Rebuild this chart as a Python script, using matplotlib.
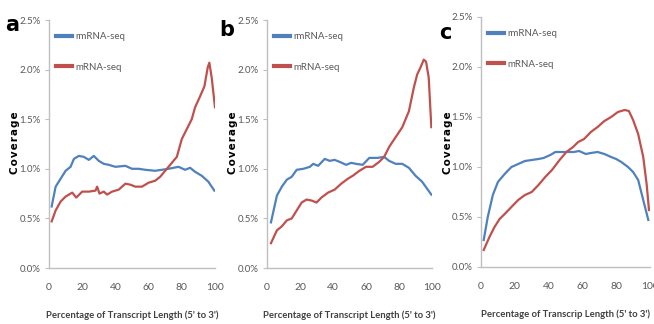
import matplotlib.pyplot as plt
from matplotlib.ticker import FuncFormatter

# panel a
xa_blue = [1.6, 4, 7, 10, 13, 15, 18, 21, 24, 27, 30, 33, 36, 40, 46, 50, 54, 58, 64, 68, 72, 78, 82, 85, 88, 92, 96, 99.6]
ya_blue = [0.62, 0.82, 0.90, 0.98, 1.02, 1.10, 1.13, 1.12, 1.09, 1.13, 1.08, 1.05, 1.04, 1.02, 1.03, 1.00, 1.00, 0.99, 0.98, 0.99, 1.00, 1.02, 0.99, 1.01, 0.97, 0.93, 0.87, 0.78]
xa_red = [1.6, 4, 7, 10, 14, 16.4, 20, 24, 28, 29, 30.4, 33, 35, 38, 42, 46, 49, 52, 56, 60, 64, 67, 70, 73, 77, 80, 83, 86, 88, 91, 93.6, 95.6, 96.6, 98, 100]
ya_red = [0.47, 0.58, 0.67, 0.72, 0.76, 0.71, 0.77, 0.77, 0.78, 0.82, 0.75, 0.77, 0.74, 0.77, 0.79, 0.85, 0.84, 0.82, 0.82, 0.86, 0.88, 0.92, 0.98, 1.04, 1.12, 1.30, 1.40, 1.50, 1.62, 1.73, 1.83, 2.02, 2.07, 1.92, 1.62]

# panel b
xb_blue = [2.4, 6, 9, 12, 15, 18, 22, 26, 28, 31, 35, 38, 41, 44, 48, 51, 54, 58, 62, 67, 71, 74, 78, 82, 86, 90, 94, 97, 99.6]
yb_blue = [0.46, 0.73, 0.82, 0.89, 0.92, 0.99, 1.00, 1.02, 1.05, 1.03, 1.10, 1.08, 1.09, 1.07, 1.04, 1.06, 1.05, 1.04, 1.11, 1.11, 1.12, 1.08, 1.05, 1.05, 1.01, 0.93, 0.87, 0.80, 0.74]
xb_red = [2.4, 6, 9, 12, 15, 18, 21, 24, 27, 30, 33, 37, 41, 45, 49, 52, 56, 60, 64, 68, 71, 74, 78, 82, 86, 89, 91, 93, 95, 96.4, 98, 99.6]
yb_red = [0.25, 0.38, 0.42, 0.48, 0.50, 0.58, 0.66, 0.69, 0.68, 0.66, 0.71, 0.76, 0.79, 0.85, 0.90, 0.93, 0.98, 1.02, 1.02, 1.07, 1.12, 1.22, 1.32, 1.42, 1.58, 1.82, 1.95, 2.02, 2.10, 2.08, 1.92, 1.42]

# panel c
xc_blue = [1.6, 4, 7, 10, 14, 18, 22, 26, 30, 34, 37, 41, 44, 48, 52, 55, 58, 62, 65, 69, 73, 77, 80, 83, 87, 90, 93, 96, 99]
yc_blue = [0.27, 0.50, 0.72, 0.85, 0.93, 1.00, 1.03, 1.06, 1.07, 1.08, 1.09, 1.12, 1.15, 1.15, 1.15, 1.15, 1.16, 1.13, 1.14, 1.15, 1.13, 1.10, 1.08, 1.05, 1.00, 0.95, 0.87, 0.67, 0.47]
xc_red = [1.6, 5, 8, 11, 14, 18, 22, 26, 30, 34, 38, 42, 46.5, 50.5, 54.5, 57.5, 61, 65, 69, 73, 77, 81, 85, 87.5, 90, 93, 96, 98, 99.4]
yc_red = [0.17, 0.30, 0.40, 0.48, 0.53, 0.60, 0.67, 0.72, 0.75, 0.82, 0.90, 0.97, 1.07, 1.15, 1.20, 1.25, 1.28, 1.35, 1.40, 1.46, 1.50, 1.55, 1.57, 1.56, 1.47, 1.33, 1.10, 0.83, 0.57]

panels = [
    ('a', xa_blue, ya_blue, xa_red, ya_red, "Percentage of Transcript Length (5' to 3')"),
    ('b', xb_blue, yb_blue, xb_red, yb_red, "Percentage of Transcript Length (5' to 3')"),
    ('c', xc_blue, yc_blue, xc_red, yc_red, "Percentage of Transcrip Length (5' to 3')"),
]
rects = [
    [49/654, 1-268/324, 166/654, 248/324],
    [267/654, 1-268/324, 165/654, 248/324],
    [481/654, 1-267/324, 169/654, 250/324],
]
letter_pos = [(12/654, 1-25/324), (227/654, 1-30/324), (445/654, 1-33/324)]
ylabel_x = [15/654, 233/654, 448/654]

plt.rcParams['font.family'] = ['Lato', 'DejaVu Sans']
blue = '#4F81BD'
red = '#C0504D'
gray = '#595959'

fig = plt.figure(figsize=(6.54, 3.24), dpi=100)

for i, (letter, xb, yb, xr, yr, xlab) in enumerate(panels):
    ax = fig.add_axes(rects[i])
    ax.plot(xb, yb, color=blue, lw=1.6, label='rmRNA-seq')
    ax.plot(xr, yr, color=red, lw=1.6, label='mRNA-seq')
    ax.set_xlim(0, 100)
    ax.set_ylim(0, 2.5)
    ax.set_xticks([0, 20, 40, 60, 80, 100])
    ax.set_yticks([0, 0.5, 1.0, 1.5, 2.0, 2.5])
    ax.yaxis.set_major_formatter(FuncFormatter(lambda v, p: '%.1f%%' % v))
    for s in ['top', 'right']:
        ax.spines[s].set_visible(False)
    for s in ['left', 'bottom']:
        ax.spines[s].set_color('#BFBFBF')
        ax.spines[s].set_linewidth(1.0)
    ax.tick_params(axis='y', length=3, color='#BFBFBF', labelsize=7, labelcolor=gray, pad=3)
    ax.tick_params(axis='x', length=0, labelsize=7.5, labelcolor=gray, pad=11)
    ax.set_xlabel(xlab, fontsize=6.8, fontweight='bold', color='#404040', labelpad=13)
    leg = ax.legend(loc='upper left', bbox_to_anchor=(-0.01, 0.985), frameon=False,
                    fontsize=7, handlelength=1.6, handletextpad=0.35, labelspacing=2.2)
    for h in leg.get_lines():
        h.set_linewidth(3)
    for t in leg.get_texts():
        t.set_color(gray)
    fig.text(ylabel_x[i], 1-143/324, 'C\u200ao\u200av\u200ae\u200ar\u200aa\u200ag\u200ae', rotation=90,
             fontsize=7.5, fontweight='bold', ha='center', va='center', family='DejaVu Sans')
    fig.text(letter_pos[i][0], letter_pos[i][1], letter, fontsize=15, fontweight='bold',
             ha='center', va='center', family='DejaVu Sans')

fig.savefig('out.png', dpi=100)
